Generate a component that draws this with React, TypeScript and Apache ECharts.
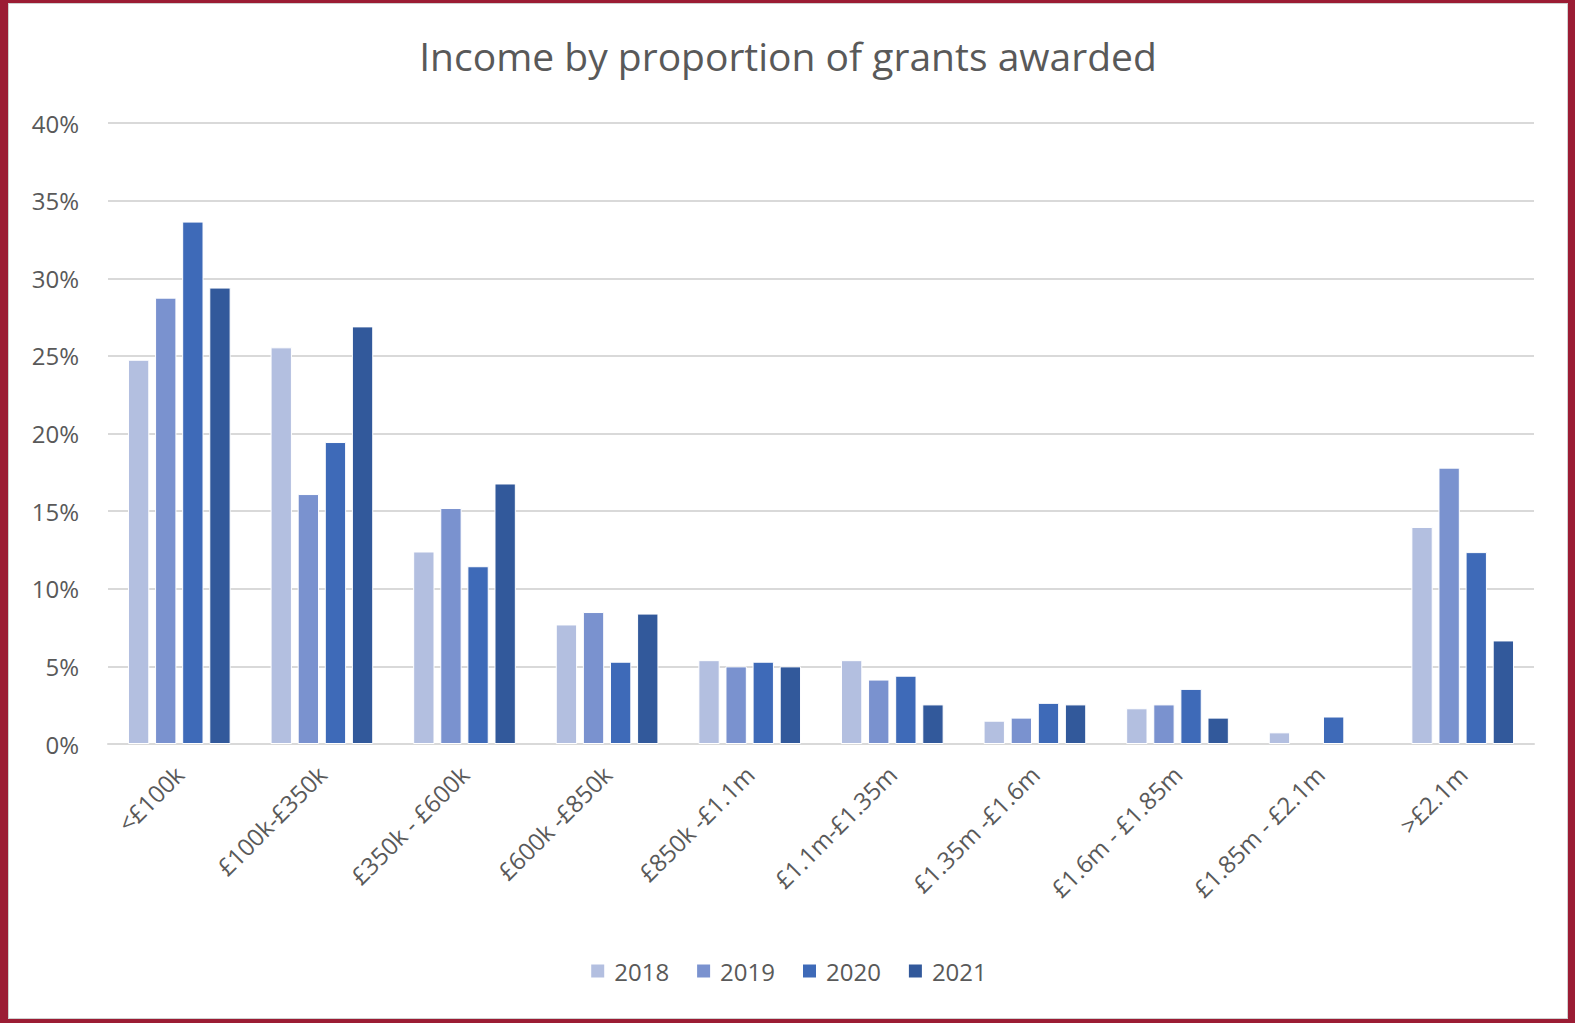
import React, { useEffect, useRef } from "react";
import * as echarts from "echarts";

const categories = [
  "<£100k",
  "£100k-£350k",
  "£350k - £600k",
  "£600k -£850k",
  "£850k -£1.1m",
  "£1.1m-£1.35m",
  "£1.35m -£1.6m",
  "£1.6m - £1.85m",
  "£1.85m - £2.1m",
  ">£2.1m",
];
const years = ["2018", "2019", "2020", "2021"];
const v2018 = [24.75, 25.55, 12.4, 7.7, 5.4, 5.4, 1.5, 2.3, 0.75, 13.98];
const v2019 = [28.75, 16.1, 15.2, 8.5, 5.0, 4.15, 1.7, 2.55, null, 17.8];
const v2020 = [33.65, 19.45, 11.45, 5.3, 5.3, 4.4, 2.65, 3.55, 1.77, 12.36];
const v2021 = [29.4, 26.9, 16.78, 8.4, 5.0, 2.55, 2.55, 1.7, null, 6.67];
const seriesValues = [v2018, v2019, v2020, v2021];
const colors = ["#B3BFE0", "#7A92CF", "#3E6AB8", "#32599B"];

export default function App() {
  const ref = useRef<HTMLDivElement>(null);
  useEffect(() => {
    document.body.style.margin = "0";
    const chart = echarts.init(ref.current!, null, { renderer: "svg" });
    const font = "'Open Sans', 'Noto Sans', sans-serif";
    chart.setOption({
      animation: false,
      backgroundColor: "#ffffff",
      title: {
        text: "Income by proportion of grants awarded",
        left: "center",
        top: 27,
        textStyle: {
          color: "#595959",
          fontFamily: font,
          fontSize: 39,
          fontWeight: "normal",
        },
      },
      legend: {
        bottom: 30,
        left: "center",
        itemWidth: 15,
        itemHeight: 15,
        itemGap: 26,
        icon: "rect",
        textStyle: { color: "#595959", fontFamily: font, fontSize: 24, padding: [0, 0, 0, 4] },
        data: years,
      },
      grid: { left: 99, right: 33, top: 119, bottom: 274, containLabel: false },
      xAxis: {
        type: "category",
        data: categories,
        axisLine: { lineStyle: { color: "#D9D9D9", width: 2 } },
        axisTick: { show: false },
        axisLabel: {
          rotate: 45,
          color: "#595959",
          fontFamily: font,
          fontSize: 24,
          margin: 26,
          interval: 0,
        },
      },
      yAxis: {
        type: "value",
        min: 0,
        max: 40,
        interval: 5,
        axisLine: { show: false },
        axisTick: { show: false },
        splitLine: { lineStyle: { color: "#D9D9D9", width: 2 } },
        axisLabel: {
          formatter: "{value}%",
          color: "#595959",
          fontFamily: font,
          fontSize: 24,
          margin: 29,
        },
      },
      series: years.map((y, i) => ({
        name: y,
        type: "bar",
        data: seriesValues[i],
        barGap: "27%",
        barCategoryGap: "28%",
        itemStyle: { color: colors[i], borderColor: "#ffffff", borderWidth: 1 },
      })),
    });
    return () => chart.dispose();
  }, []);
  return (
    <div
      style={{
        position: "absolute",
        left: 0,
        top: 0,
        width: 1575,
        height: 1023,
        background: "#9B1C34",
        boxSizing: "border-box",
        padding: "3px 7px 4px 8px",
      }}
    >
      <div
        style={{
          width: "100%",
          height: "100%",
          background: "#fff",
          boxSizing: "border-box",
          border: "1px solid #D0D0D0",
        }}
      >
        <div ref={ref} style={{ width: 1558, height: 1014 }} />
      </div>
    </div>
  );
}
